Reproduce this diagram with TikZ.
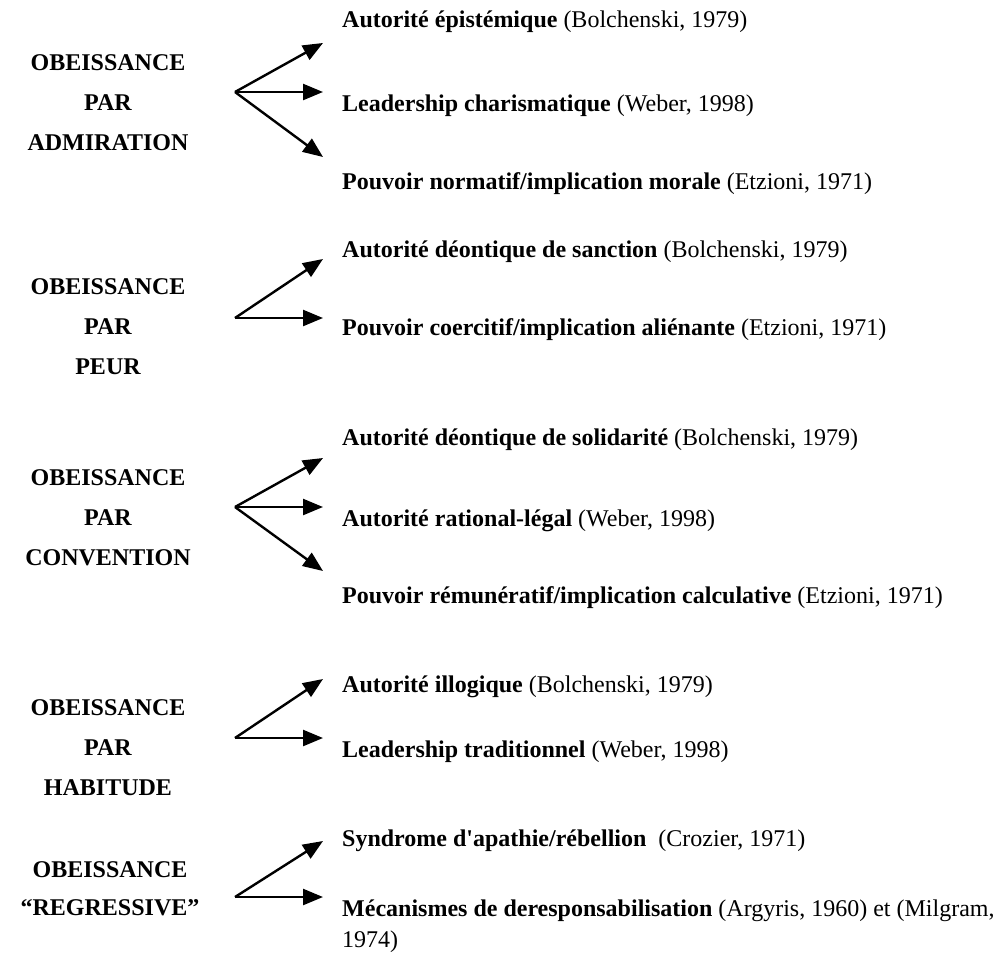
\documentclass[tikz,border=0pt]{standalone}
\usepackage{fontspec}
\setmainfont{Liberation Serif}
\usetikzlibrary{arrows.meta}
\begin{document}
\begin{tikzpicture}[x=1pt,y=-1pt,
  lab/.style={font=\fontsize{24}{40}\selectfont\bfseries, align=center, inner sep=0pt},
  item/.style={font=\fontsize{24}{31}\selectfont, anchor=base west, inner sep=0pt, align=left},
  arr/.style={line width=2.4pt, -{Triangle[length=20pt,width=16pt]}}]
\useasboundingbox (0,0) rectangle (998,956);
% ---------- group 1
\node[lab] (g1) at (108,103) {OBEISSANCE\\PAR\\ADMIRATION};
\coordinate (o1) at (235,92);
\coordinate (t1a) at (323,43);
\coordinate (t1b) at (323,92);
\coordinate (t1c) at (323,157);
\draw[arr] (o1) -- (t1a);
\draw[arr] (o1) -- (t1b);
\draw[arr] (o1) -- (t1c);
\node[item] (r1a) at (342,27) {\textbf{Autorité épistémique} (Bolchenski, 1979)};
\node[item] (r1b) at (342,111) {\textbf{Leadership charismatique} (Weber, 1998)};
\node[item] (r1c) at (342,189) {\textbf{Pouvoir normatif/implication morale} (Etzioni, 1971)};
% ---------- group 2
\node[lab] (g2) at (108,327) {OBEISSANCE\\PAR\\PEUR};
\coordinate (o2) at (235,318);
\coordinate (t2a) at (323,259);
\coordinate (t2b) at (323,318);
\draw[arr] (o2) -- (t2a);
\draw[arr] (o2) -- (t2b);
\node[item] (r2a) at (342,257) {\textbf{Autorité déontique de sanction} (Bolchenski, 1979)};
\node[item] (r2b) at (342,335) {\textbf{Pouvoir coercitif/implication aliénante} (Etzioni, 1971)};
% ---------- group 3
\node[lab] (g3) at (108,518) {OBEISSANCE\\PAR\\CONVENTION};
\coordinate (o3) at (235,507);
\coordinate (t3a) at (323,458);
\coordinate (t3b) at (323,507);
\coordinate (t3c) at (323,571);
\draw[arr] (o3) -- (t3a);
\draw[arr] (o3) -- (t3b);
\draw[arr] (o3) -- (t3c);
\node[item] (r3a) at (342,445) {\textbf{Autorité déontique de solidarité} (Bolchenski, 1979)};
\node[item] (r3b) at (342,526) {\textbf{Autorité rational-légal} (Weber, 1998)};
\node[item] (r3c) at (342,603) {\textbf{Pouvoir rémunératif/implication calculative} (Etzioni, 1971)};
% ---------- group 4
\node[lab] (g4) at (108,748) {OBEISSANCE\\PAR\\HABITUDE};
\coordinate (o4) at (235,738);
\coordinate (t4a) at (323,679);
\coordinate (t4b) at (323,738);
\draw[arr] (o4) -- (t4a);
\draw[arr] (o4) -- (t4b);
\node[item] (r4a) at (342,692) {\textbf{Autorité illogique} (Bolchenski, 1979)};
\node[item] (r4b) at (342,757) {\textbf{Leadership traditionnel} (Weber, 1998)};
% ---------- group 5
\node[lab, font=\fontsize{24}{38}\selectfont\bfseries] (g5) at (110,889) {OBEISSANCE\\“REGRESSIVE”};
\coordinate (o5) at (235,897);
\coordinate (t5a) at (323,841);
\coordinate (t5b) at (323,897);
\draw[arr] (o5) -- (t5a);
\draw[arr] (o5) -- (t5b);
\node[item] (r5a) at (342,846) {\textbf{Syndrome d\textquotesingle apathie/rébellion}\hspace{0.25em} (Crozier, 1971)};
\node[item, anchor=north west] (r5b) at (342,900) {\textbf{Mécanismes de deresponsabilisation} (Argyris, 1960) et (Milgram,\\1974)};
\end{tikzpicture}
\end{document}
